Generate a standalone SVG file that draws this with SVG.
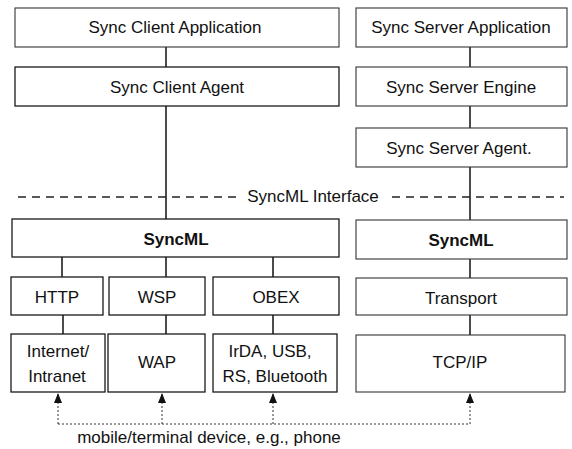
<svg xmlns="http://www.w3.org/2000/svg" width="572" height="449" viewBox="0 0 572 449">
<style>
.box{fill:#fff;stroke:#1a1a1a;stroke-width:1.3}
.lt{fill:#fff;stroke:#333;stroke-width:1.1}
.t{font-family:"Liberation Sans",Arial,sans-serif;font-size:17px;fill:#111;text-anchor:middle}
.b{font-weight:bold}
.c{stroke:#111;stroke-width:1.5;fill:none}
.d{stroke:#222;stroke-width:1.3;stroke-dasharray:8 6;fill:none}
.dot{stroke:#333;stroke-width:1;stroke-dasharray:2 2;fill:none}
</style>
<defs>
<marker id="ah" viewBox="0 0 10 8" refX="10" refY="4" markerWidth="10" markerHeight="8" markerUnits="userSpaceOnUse" orient="auto">
<path d="M0,0 L10,4 L0,8 Z" fill="#111"/>
</marker>
</defs>
<rect width="572" height="449" fill="#fff"/>
<g id="connectors">
<line class="c" x1="166" y1="47" x2="166" y2="67"/>
<line class="c" x1="166" y1="106" x2="166" y2="219"/>
<line class="c" x1="470" y1="47" x2="470" y2="67"/>
<line class="c" x1="470" y1="106" x2="470" y2="128"/>
<line class="c" x1="470" y1="167" x2="470" y2="220"/>
<line class="c" x1="470" y1="259" x2="470" y2="278"/>
<line class="c" x1="470" y1="315" x2="470" y2="335"/>
<line class="c" x1="62" y1="257" x2="62" y2="277"/>
<line class="c" x1="166" y1="257" x2="166" y2="277"/>
<line class="c" x1="273" y1="257" x2="273" y2="277"/>
<line class="c" x1="63" y1="315" x2="63" y2="334"/>
<line class="c" x1="166" y1="315" x2="166" y2="334"/>
<line class="c" x1="273" y1="315" x2="273" y2="334"/>
<path class="d" d="M18,197 H238"/>
<path class="d" d="M392,197 H564"/>
<path class="dot" d="M58,424 H470"/>
<line class="dot" x1="58" y1="424" x2="58" y2="393" marker-end="url(#ah)"/>
<line class="dot" x1="162" y1="424" x2="162" y2="393" marker-end="url(#ah)"/>
<line class="dot" x1="273" y1="424" x2="273" y2="393" marker-end="url(#ah)"/>
<line class="dot" x1="470" y1="424" x2="470" y2="393" marker-end="url(#ah)"/>
<text class="t" x="313" y="202">SyncML Interface</text>
<text class="t" x="209" y="443">mobile/terminal device, e.g., phone</text>
</g>
<g id="client-app"><rect class="lt" x="15" y="8" width="324" height="39"/><text class="t" x="175" y="33">Sync Client Application</text></g>
<g id="client-agent"><rect class="box" x="15" y="67" width="324" height="39"/><text class="t" x="177" y="93">Sync Client Agent</text></g>
<g id="server-app"><rect class="lt" x="356" y="8" width="211" height="39"/><text class="t" x="461" y="33">Sync Server Application</text></g>
<g id="server-engine"><rect class="lt" x="356" y="67" width="211" height="39"/><text class="t" x="461" y="93">Sync Server Engine</text></g>
<g id="server-agent"><rect class="lt" x="356" y="128" width="211" height="39"/><text class="t" x="459" y="154">Sync Server Agent.</text></g>
<g id="client-syncml"><rect class="box" x="12" y="219" width="327" height="38"/><text class="t b" x="176" y="245">SyncML</text></g>
<g id="server-syncml"><rect class="lt" x="356" y="220" width="211" height="39"/><text class="t b" x="461" y="246">SyncML</text></g>
<g id="http"><rect class="box" x="11" y="277" width="92" height="38"/><text class="t" x="57" y="303">HTTP</text></g>
<g id="wsp"><rect class="box" x="109" y="277" width="96" height="38"/><text class="t" x="157" y="303">WSP</text></g>
<g id="obex"><rect class="box" x="213" y="277" width="126" height="38"/><text class="t" x="276" y="303">OBEX</text></g>
<g id="transport"><rect class="lt" x="356" y="278" width="211" height="37"/><text class="t" x="461" y="304">Transport</text></g>
<g id="internet"><rect class="box" x="11" y="334" width="94" height="58"/><text class="t" x="58" y="357">Internet/</text><text class="t" x="57" y="382">Intranet</text></g>
<g id="wap"><rect class="box" x="108" y="334" width="97" height="58"/><text class="t" x="157" y="368">WAP</text></g>
<g id="irda"><rect class="box" x="213" y="334" width="124" height="58"/><text class="t" x="270" y="357">IrDA, USB,</text><text class="t" x="275" y="382">RS, Bluetooth</text></g>
<g id="tcpip"><rect class="lt" x="356" y="335" width="209" height="57"/><text class="t" x="460" y="368">TCP/IP</text></g>
</svg>
